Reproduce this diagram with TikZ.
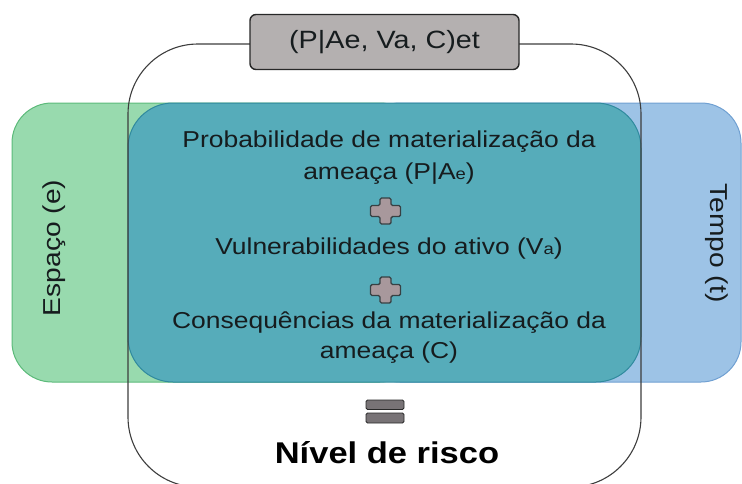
\documentclass[tikz,border=0pt]{standalone}
\usepackage{fontspec}
\setmainfont{Liberation Sans}[FakeStretch=1.15]
\definecolor{greenfill}{RGB}{152,218,174}
\definecolor{greenline}{RGB}{92,186,122}
\definecolor{bluefill}{RGB}{157,195,230}
\definecolor{blueline}{RGB}{112,160,210}
\definecolor{tealfill}{RGB}{86,172,186}
\definecolor{tealline}{RGB}{48,138,158}
\definecolor{labelfill}{RGB}{180,176,176}
\definecolor{darkline}{RGB}{40,40,40}
\definecolor{plusfill}{RGB}{168,152,156}
\definecolor{plusline}{RGB}{55,65,68}
\definecolor{eqfill}{RGB}{120,115,118}
\definecolor{txt}{RGB}{22,28,30}
\tikzset{
  bodytext/.style={text=txt, font=\fontsize{23}{28}\selectfont, inner sep=0pt, anchor=base},
  sidetext/.style={text=txt, font=\fontsize{24.5}{28}\selectfont, inner sep=0pt},
  pluspic/.pic={\draw[fill=plusfill,draw=plusline,line width=1.4pt,rounded corners=1.5pt]
     (-5.5,-13) -- (5.5,-13) -- (5.5,-5.5) -- (15,-5.5) -- (15,5.5) -- (5.5,5.5) -- (5.5,13)
     -- (-5.5,13) -- (-5.5,5.5) -- (-15,5.5) -- (-15,-5.5) -- (-5.5,-5.5) -- cycle;},
  eqbar/.style={fill=eqfill, draw=darkline, line width=0.8pt, rounded corners=1.5pt}
}
\newcommand{\smallsub}[1]{{\fontsize{16}{16}\selectfont #1}}
\begin{document}
\begin{tikzpicture}[x=1pt,y=-1pt]
\useasboundingbox (0,0) rectangle (742,483);
\clip (0,0) rectangle (742,483);
% side boxes
\draw[fill=greenfill, draw=greenline, line width=1pt, rounded corners=40] (12,103) rectangle (420,382);
\draw[fill=bluefill, draw=blueline, line width=1pt, rounded corners=40] (360,103) rectangle (741,382);
% central teal box
\draw[fill=tealfill, draw=tealline, line width=1pt, rounded corners=45] (128,103) rectangle (641,382);
% outer frame
\draw[draw=darkline!90, line width=1.1pt, rounded corners=70] (128,44) rectangle (641,487);
% top label
\node[draw=darkline, fill=labelfill, line width=1.4pt, rounded corners=6pt,
      minimum width=269pt, minimum height=55pt, inner sep=0pt,
      text=txt, font=\fontsize{25}{28}\selectfont] (label) at (384.5,42) {(P|Ae, Va, C)et};
% side labels
\node[sidetext, rotate=90] (espaco) at (54,248) {Espaço (e)};
\node[sidetext, rotate=-90] (tempo) at (717,243) {Tempo (t)};
% central text
\node[bodytext] (l1) at (389,147.5) {Probabilidade de materialização da};
\node[bodytext] (l2) at (389,179) {ameaça (P|A\smallsub{e})};
\pic (plus1) at (385.5,211) {pluspic};
\node[bodytext] (l3) at (389,254) {Vulnerabilidades do ativo (V\smallsub{a})};
\pic (plus2) at (385.5,290) {pluspic};
\node[bodytext] (l4) at (389,328) {Consequências da materialização da};
\node[bodytext] (l5) at (389,358) {ameaça (C)};
% equals sign
\draw[eqbar] (366,400) rectangle (404,409.5);
\draw[eqbar] (366,413) rectangle (404,423);
% result
\node[text=black, font=\fontsize{30}{34}\selectfont\bfseries, inner sep=0pt, anchor=base] (risco) at (387,463) {Nível de risco};
\end{tikzpicture}
\end{document}
